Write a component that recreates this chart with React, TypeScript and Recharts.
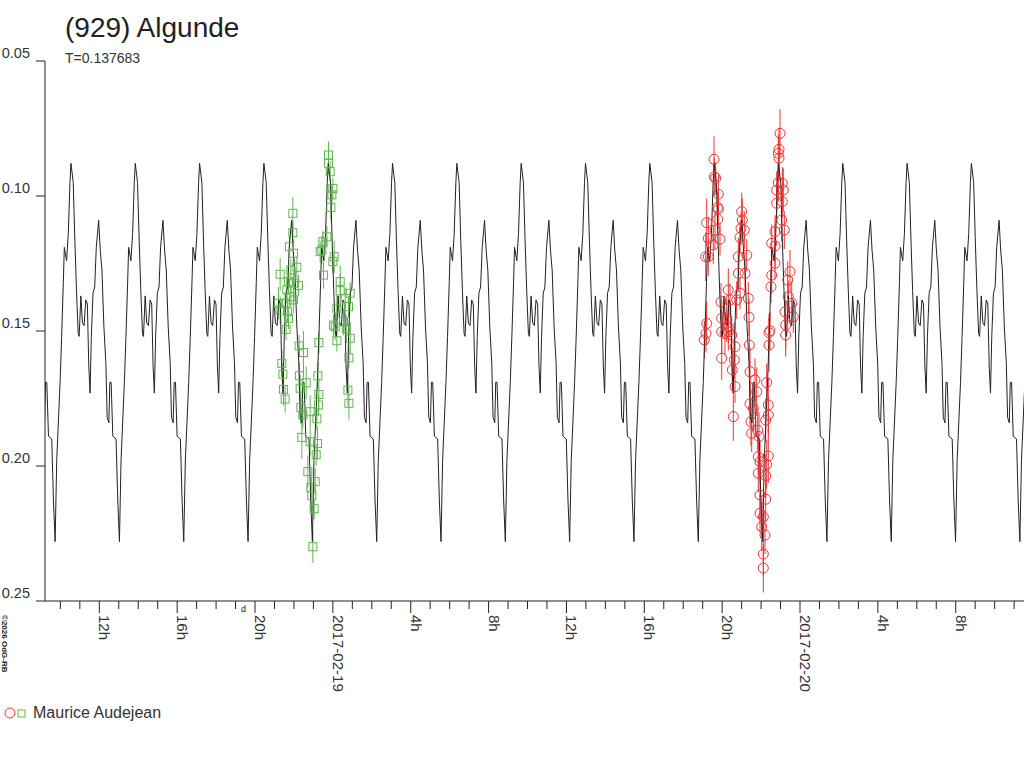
import React from 'react';
import { ComposedChart, Line, Scatter, XAxis, YAxis, ErrorBar } from 'recharts';

// ---- chart constants ----
const TITLE = '(929) Algunde';
const SUBTITLE = 'T=0.137683';
const OBSERVER = 'Maurice Audejean';
const COPYRIGHT = '©2026 OdG-RB';

const PERIOD_DAYS = 0.137683;
const PERIOD_H = PERIOD_DAYS * 24;
const MIN_EPOCH_H = 26.252; // hours since 2017-02-18 00:00 of a light-curve minimum
const X_DOMAIN: [number, number] = [9.21, 59.508];
const Y_DOMAIN: [number, number] = [0.05, 0.25];
const Y_TICKS = [0.05, 0.1, 0.15, 0.2, 0.25];

const HOUR_TICKS = [10, 11, 12, 13, 14, 15, 16, 17, 18, 19, 20, 21, 22, 23, 24, 25, 26, 27, 28, 29, 30, 31, 32, 33, 34,
  35, 36, 37, 38, 39, 40, 41, 42, 43, 44, 45, 46, 47, 48, 49, 50, 51, 52, 53, 54, 55, 56, 57, 58, 59];
const MAJOR_HOURS = [12, 16, 20, 24, 28, 32, 36, 40, 44, 48, 52, 56];
const MAJOR_LABELS = ['12h', '16h', '20h', '2017-02-19', '4h', '8h', '12h', '16h', '20h', '2017-02-20', '4h', '8h'];

// ---- one cycle of the model curve (phase from minimum, magnitude) ----
const SHAPE_PHASE = [0, 0.0246, 0.0769, 0.1015, 0.1277, 0.1431, 0.1785, 0.2046, 0.2308, 0.2462, 0.2815, 0.3077,
  0.3323, 0.3585, 0.3738, 0.4, 0.4246, 0.4508, 0.4769, 0.5015, 0.5231, 0.5431, 0.5631, 0.5892, 0.6154, 0.64, 0.6769,
  0.7015, 0.7277, 0.7585, 0.7892, 0.8092, 0.8354, 0.8508, 0.8708, 0.8969, 0.9477, 0.9738];
const SHAPE_MAG = [0.228, 0.198, 0.169, 0.152, 0.132, 0.119, 0.124, 0.114, 0.095, 0.0879, 0.095, 0.117,
  0.135, 0.151, 0.152, 0.137, 0.147, 0.148, 0.1385, 0.14, 0.163, 0.173, 0.152, 0.136, 0.1337, 0.119, 0.109,
  0.12, 0.1274, 0.1485, 0.162, 0.182, 0.184, 0.169, 0.169, 0.189, 0.19, 0.2126];

// ---- observations, session 1 (green squares) ----
const GREEN_T = [21.944, 21.944, 21.769, 21.291, 21.975, 22.149, 21.841, 21.718, 21.975, 22.232, 21.635, 21.841,
  21.204, 21.548, 21.975, 21.666, 21.291, 21.718, 23.774, 23.774, 23.862, 24.0, 23.949, 23.898, 23.692, 23.486,
  23.435, 23.347, 24.067, 24.0, 23.517, 24.89, 24.376, 24.633, 24.206, 24.803, 24.031, 24.545, 24.376, 21.599,
  21.378, 21.43, 21.461, 21.548, 22.268, 22.489, 22.283, 22.628, 22.319, 22.355, 22.458, 22.833, 23.178, 22.406,
  22.833, 23.209, 23.142, 22.715, 23.09, 22.869, 22.921, 23.039, 22.972, 23.281, 23.229, 23.281, 23.26, 24.119,
  24.206, 24.684, 24.89, 24.823, 24.772, 24.823];
const GREEN_M = [0.1064, 0.1136, 0.1188, 0.129, 0.1212, 0.1264, 0.1274, 0.1317, 0.1323, 0.1332, 0.1348, 0.1373,
  0.1397, 0.1397, 0.1385, 0.1429, 0.1422, 0.1453, 0.0848, 0.0879, 0.091, 0.0972, 0.0996, 0.1042, 0.1151, 0.1169,
  0.12, 0.1206, 0.1225, 0.1243, 0.1293, 0.136, 0.1351, 0.1379, 0.1416, 0.141, 0.1478, 0.1466, 0.1317, 0.1494,
  0.162, 0.166, 0.1716, 0.1752, 0.1555, 0.158, 0.1666, 0.1692, 0.1712, 0.1784, 0.1811, 0.1799, 0.1825, 0.1894,
  0.191, 0.1917, 0.1958, 0.2021, 0.2058, 0.2079, 0.211, 0.2158, 0.2299, 0.1543, 0.1666, 0.1735, 0.1774, 0.1484,
  0.1536, 0.149, 0.1527, 0.1599, 0.1719, 0.1768];
const GREEN_ERR = [0.006, 0.004, 0.004, 0.006, 0.005, 0.004, 0.004, 0.005, 0.004, 0.004, 0.005, 0.004,
  0.006, 0.004, 0.005, 0.004, 0.005, 0.004, 0.005, 0.004, 0.004, 0.004, 0.004, 0.005, 0.004, 0.004,
  0.005, 0.004, 0.006, 0.004, 0.005, 0.004, 0.006, 0.004, 0.005, 0.004, 0.004, 0.005, 0.006, 0.004,
  0.005, 0.004, 0.006, 0.005, 0.004, 0.008, 0.005, 0.006, 0.005, 0.006, 0.005, 0.006, 0.004, 0.008,
  0.005, 0.006, 0.004, 0.006, 0.005, 0.004, 0.005, 0.004, 0.006, 0.004, 0.005, 0.006, 0.004, 0.005,
  0.004, 0.005, 0.006, 0.004, 0.006, 0.006];

// ---- observations, session 2 (red circles) ----
const RED_T = [43.581, 43.597, 43.669, 43.802, 43.772, 43.802, 43.206, 43.772, 43.633, 43.289, 43.89, 43.545,
  43.155, 43.289, 43.206, 43.17, 44.316, 43.941, 44.403, 43.977, 43.977, 44.316, 45.005, 45.036, 44.969, 45.138,
  44.917, 44.83, 45.262, 44.83, 45.174, 44.917, 44.748, 45.344, 45.38, 46.973, 46.921, 46.885, 46.921, 46.885,
  47.091, 46.803, 47.142, 46.803, 47.091, 47.06, 47.193, 46.716, 46.546, 46.716, 46.716, 46.546, 46.51, 47.486,
  47.368, 47.399, 47.229, 47.574, 47.265, 46.459, 47.656, 43.083, 43.977, 44.66, 44.624, 44.521, 44.66, 44.573,
  45.395, 46.407, 46.407, 47.265, 45.431, 45.688, 46.289, 45.776, 45.431, 45.601, 46.371, 46.371, 46.238, 45.482,
  45.827, 45.518, 45.893, 45.858, 46.371, 45.945, 46.289, 45.858, 46.238, 45.945, 46.238, 45.945, 46.115, 46.032,
  46.202, 46.115, 46.115, 44.316, 44.146, 44.491, 44.234];
const RED_M = [0.0864, 0.0929, 0.0934, 0.0993, 0.1042, 0.1049, 0.1099, 0.1086, 0.1126, 0.1157, 0.116, 0.1181,
  0.1225, 0.1225, 0.1472, 0.1509, 0.1348, 0.1392, 0.1385, 0.1453, 0.1503, 0.1484, 0.1058, 0.1089, 0.112, 0.1126,
  0.1153, 0.1225, 0.1219, 0.1286, 0.1286, 0.136, 0.1385, 0.1379, 0.1449, 0.0768, 0.0827, 0.0842, 0.086, 0.0951,
  0.0953, 0.0978, 0.0978, 0.1027, 0.1021, 0.1089, 0.1126, 0.1132, 0.1175, 0.1185, 0.1249, 0.1293, 0.1336, 0.128,
  0.1311, 0.1373, 0.1429, 0.1397, 0.1478, 0.1499, 0.1447, 0.1533, 0.1601, 0.1558, 0.1607, 0.1644, 0.1706, 0.1817,
  0.1552, 0.1552, 0.1506, 0.1515, 0.1651, 0.1681, 0.1691, 0.1725, 0.177, 0.1786, 0.1774, 0.1811, 0.183, 0.1836,
  0.1867, 0.1879, 0.1891, 0.1966, 0.1963, 0.1984, 0.1994, 0.2027, 0.2036, 0.2107, 0.2123, 0.2175, 0.2188, 0.2225,
  0.2256, 0.2326, 0.2378, 0.1503, 0.1509, 0.1515, 0.1459];
const RED_ERR = [0.0085, 0.007, 0.006, 0.007, 0.006, 0.007, 0.009, 0.006, 0.007, 0.008, 0.006, 0.007,
  0.009, 0.007, 0.008, 0.007, 0.008, 0.007, 0.006, 0.007, 0.008, 0.006, 0.007, 0.008, 0.006, 0.007,
  0.006, 0.007, 0.006, 0.007, 0.008, 0.006, 0.007, 0.006, 0.007, 0.009, 0.008, 0.007, 0.008, 0.007,
  0.006, 0.007, 0.008, 0.007, 0.006, 0.008, 0.007, 0.006, 0.007, 0.008, 0.006, 0.007, 0.006, 0.008,
  0.007, 0.006, 0.007, 0.008, 0.009, 0.007, 0.006, 0.007, 0.008, 0.009, 0.007, 0.008, 0.006, 0.009,
  0.008, 0.010, 0.007, 0.008, 0.009, 0.008, 0.007, 0.009, 0.008, 0.009, 0.010, 0.007, 0.008, 0.009,
  0.008, 0.007, 0.009, 0.008, 0.010, 0.008, 0.009, 0.007, 0.008, 0.009, 0.008, 0.007, 0.008, 0.009,
  0.007, 0.008, 0.009, 0.007, 0.008, 0.007, 0.008];

// ---- styling ----
const FONT = '"Liberation Sans", Arial, Helvetica, sans-serif';
const GREEN = '#5cb84c';
const RED = '#ee3333';
const INK = '#222222';
const TEXT = '#333333';

// ---- derived tables ----
const modelData = (() => {
  const pts: { t: number; m: number }[] = [];
  for (let k = -6; k <= 11; k++) {
    for (let i = 0; i < SHAPE_PHASE.length; i++) {
      const t = MIN_EPOCH_H + (k + SHAPE_PHASE[i]) * PERIOD_H;
      if (t > X_DOMAIN[0] - 1 && t < X_DOMAIN[1] + 1) pts.push({ t, m: SHAPE_MAG[i] });
    }
  }
  return pts.sort((a, b) => a.t - b.t);
})();

const greenData = GREEN_T.map((t, i) => ({ t, m: GREEN_M[i], e: GREEN_ERR[i] }));
const redData = RED_T.map((t, i) => ({ t, m: RED_M[i], e: RED_ERR[i] }));

const XTick = (props: any) => {
  const { x, y, payload } = props;
  const idx = MAJOR_HOURS.indexOf(payload.value);
  const major = idx >= 0;
  return (
    <g>
      <line x1={x} x2={x} y1={y} y2={y + (major ? 12 : 8)} stroke={INK} strokeWidth={1} />
      {major && (
        <text
          transform={`translate(${x},${y + 14}) rotate(90)`}
          fontSize={15}
          fontFamily={FONT}
          fill={TEXT}
          textAnchor="start"
        >
          {MAJOR_LABELS[idx]}
        </text>
      )}
    </g>
  );
};

const YTick = (props: any) => {
  const { x, y, payload } = props;
  return (
    <text x={x} y={y - 3} textAnchor="end" fontSize={14.5} fontFamily={FONT} fill={TEXT}>
      {Number(payload.value).toFixed(2)}
    </text>
  );
};

const Square = (props: any) => {
  const { cx, cy } = props;
  if (cx == null || cy == null) return null;
  return <rect x={cx - 4} y={cy - 4} width={8} height={8} fill="none" stroke={GREEN} strokeWidth={1} />;
};

const Circle = (props: any) => {
  const { cx, cy } = props;
  if (cx == null || cy == null) return null;
  return <circle cx={cx} cy={cy} r={5} fill="none" stroke={RED} strokeWidth={1} />;
};

export default function App() {
  return (
    <div style={{ position: 'absolute', left: 0, top: 0, width: 1024, height: 768, background: '#fff' }}>
      <ComposedChart width={1024} height={768} margin={{ top: 61, right: 0, bottom: 67, left: 0 }}>
        <XAxis
          type="number"
          dataKey="t"
          domain={X_DOMAIN}
          ticks={HOUR_TICKS}
          interval={0}
          allowDataOverflow
          tickSize={0}
          tickMargin={0}
          tickLine={false}
          axisLine={{ stroke: INK, strokeWidth: 1 }}
          tick={<XTick />}
          height={100}
        />
        <YAxis
          type="number"
          dataKey="m"
          domain={Y_DOMAIN}
          reversed
          ticks={Y_TICKS}
          interval={0}
          allowDataOverflow
          width={45}
          tickSize={9}
          tickMargin={6}
          tickLine={{ stroke: INK, strokeWidth: 1 }}
          axisLine={{ stroke: INK, strokeWidth: 1 }}
          tick={<YTick />}
        />
        <Scatter data={greenData} dataKey="m" shape={<Square />} isAnimationActive={false}>
          <ErrorBar dataKey="e" direction="y" width={0} stroke={GREEN} strokeWidth={1} />
        </Scatter>
        <Scatter data={redData} dataKey="m" shape={<Circle />} isAnimationActive={false}>
          <ErrorBar dataKey="e" direction="y" width={0} stroke={RED} strokeWidth={1} />
        </Scatter>
        <Line
          data={modelData}
          dataKey="m"
          type="linear"
          stroke={INK}
          strokeWidth={1}
          dot={false}
          activeDot={false}
          isAnimationActive={false}
        />
      </ComposedChart>
      <svg
        width={1024}
        height={768}
        style={{ position: 'absolute', left: 0, top: 0, pointerEvents: 'none' }}
      >
        <text x={65} y={37} fontSize={28} fontFamily={FONT} fill={INK}>
          {TITLE}
        </text>
        <text x={65} y={63} fontSize={14} fontFamily={FONT} fill={TEXT}>
          {SUBTITLE}
        </text>
        <text transform="translate(1.5,615) rotate(90)" fontSize={8} fontWeight="bold" fontFamily={FONT} fill={INK}>
          {COPYRIGHT}
        </text>
        <text x={241} y={612} fontSize={9} fontFamily={FONT} fill={INK}>
          d
        </text>
        <circle cx={10} cy={713} r={5} fill="none" stroke={RED} strokeWidth={1} />
        <rect x={18} y={710} width={7} height={7} fill="none" stroke={GREEN} strokeWidth={1} />
        <text x={33} y={718} fontSize={16} fontFamily={FONT} fill={TEXT}>
          {OBSERVER}
        </text>
      </svg>
    </div>
  );
}
